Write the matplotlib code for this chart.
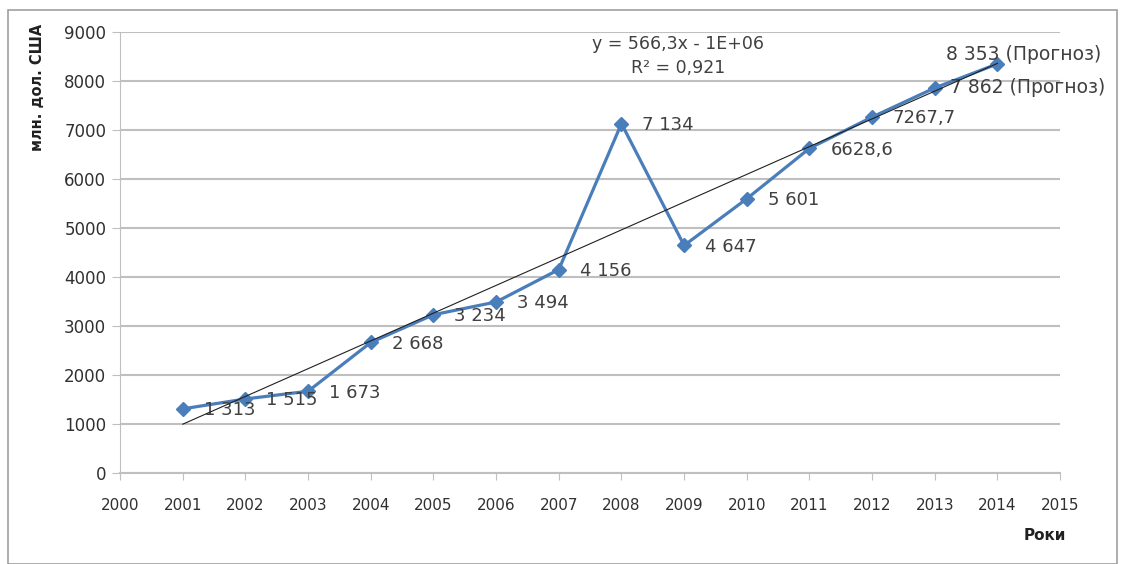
import numpy as np
import matplotlib.pyplot as plt
from matplotlib.patches import Rectangle

# Data
years = [2001, 2002, 2003, 2004, 2005, 2006, 2007, 2008, 2009, 2010, 2011, 2012, 2013, 2014]
values = [1313, 1515, 1673, 2668, 3234, 3494, 4156, 7134, 4647, 5601, 6628.6, 7267.7, 7862, 8353]
point_labels = ['1 313', '1 515', '1 673', '2 668', '3 234', '3 494', '4 156', '7 134',
                '4 647', '5 601', '6628,6', '7267,7', '7 862 (Прогноз)', '8 353 (Прогноз)']
x_ticks = list(range(2000, 2016))
y_ticks = list(range(0, 10000, 1000))

line_color = '#4A7EBB'
grid_color = '#BFBFBF'
text_color = '#404040'

fig = plt.figure(figsize=(11.23, 5.64), dpi=100)
ax = fig.add_axes([0.107, 0.161, 0.837, 0.782])

# outer chart frame
fig.patches.append(Rectangle((0.007, 0.0), 0.988, 0.982, transform=fig.transFigure,
                             fill=False, edgecolor='#A0A0A0', linewidth=1.2))

ax.plot(years, values, color=line_color, linewidth=2.3, marker='D', markersize=7,
        markerfacecolor=line_color, markeredgecolor=line_color, zorder=3)

# linear trend
coef = np.polyfit(years, values, 1)
trend_x = np.array([years[0], years[-1]])
ax.plot(trend_x, np.polyval(coef, trend_x), color='#202020', linewidth=0.8, zorder=4)

for i, (x, y, lab) in enumerate(zip(years, values, point_labels)):
    if i == len(years) - 1:
        ax.annotate(lab, (x, y), xytext=(-37, 6.5), textcoords='offset points',
                    fontsize=13.5, color=text_color, va='center', ha='left')
    elif i == len(years) - 2:
        ax.annotate(lab, (x, y), xytext=(11, 0), textcoords='offset points',
                    fontsize=13.5, color=text_color, va='center', ha='left')
    else:
        ax.annotate(lab, (x, y), xytext=(15, -1), textcoords='offset points',
                    fontsize=13, color=text_color, va='center', ha='left')

ax.text(2008.9, 8750, 'y = 566,3x - 1E+06', fontsize=12.5, color=text_color, ha='center', va='center')
ax.text(2008.9, 8270, 'R² = 0,921', fontsize=12.5, color=text_color, ha='center', va='center')

ax.set_xlim(2000, 2015)
ax.set_ylim(0, 9000)
ax.set_xticks(x_ticks)
ax.set_yticks(y_ticks)
ax.tick_params(axis='x', labelsize=11, colors=grid_color, labelcolor='#303030',
               length=5, pad=13, direction='out')
ax.tick_params(axis='y', labelsize=12, colors=grid_color, labelcolor='#303030',
               length=6, pad=4)
ax.grid(axis='y', color=grid_color, linewidth=1.5)
ax.set_axisbelow(True)
for side in ['top', 'right']:
    ax.spines[side].set_visible(False)
ax.spines['left'].set_color(grid_color)
ax.spines['bottom'].set_color(grid_color)
ax.spines['bottom'].set_linewidth(1.5)

fig.text(0.033, 0.845, 'млн. дол. США', rotation=90, fontsize=10.5, fontweight='bold',
         ha='center', va='center', color='#202020')
fig.text(0.93, 0.05, 'Роки', fontsize=11, fontweight='bold', ha='center', va='center',
         color='#202020')

fig.savefig('out.png', dpi=100)
